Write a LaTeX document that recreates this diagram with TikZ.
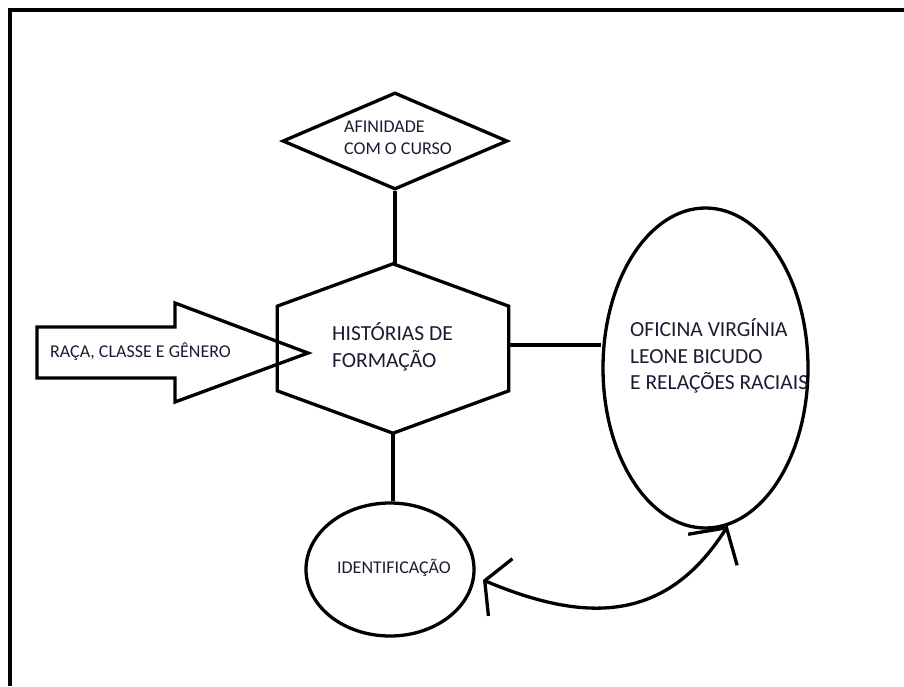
\documentclass[tikz,border=0pt]{standalone}
\usepackage{fontspec}
\setmainfont{Carlito}
\usetikzlibrary{shapes.geometric,arrows.meta,calc}
\definecolor{ink}{RGB}{25,28,50}
\begin{document}
\begin{tikzpicture}[x=1pt,y=-1pt,
  shp/.style={draw=black,line width=3.3pt,line join=miter},
  lbl/.style={text=ink,inner sep=0,font=\fontsize{18}{22}\selectfont,align=left},
  lblbig/.style={text=ink,inner sep=0,font=\fontsize{21.5}{26.5}\selectfont,align=left},
  conn/.style={draw=black,line width=3.3pt}]
\useasboundingbox (0,0) rectangle (904,686);
% frame
\draw[line width=4pt] (9.5,686) -- (9.5,9.5) -- (904,9.5);
% diamond
\node[diamond,shp,inner sep=0,minimum width=225pt,minimum height=97pt] (dia) at (395,141) {};
\node[lbl] (diatxt) at (398,137.5) {AFINIDADE\\COM O CURSO};
% hexagon
\node[inner sep=0,minimum width=231pt,minimum height=169pt] (hex) at (393,348.5) {};
\draw[shp] (hex.north) -- ($(hex.north west)!0.25!(hex.south west)$) -- ($(hex.north west)!0.75!(hex.south west)$) -- (hex.south) -- ($(hex.north east)!0.75!(hex.south east)$) -- ($(hex.north east)!0.25!(hex.south east)$) -- cycle;
\node[lblbig,anchor=west] (hextxt) at (332,347) {HISTÓRIAS DE\\FORMAÇÃO};
% big arrow
\draw[shp] (37,327) -- (175,327) -- (175,303) -- (308,353) -- (175,402) -- (175,378) -- (37,378) -- cycle;
\node[lbl] (arrtxt) at (140.5,352) {RAÇA, CLASSE E GÊNERO};
% ellipse
\node[ellipse,shp,inner sep=0,minimum width=205pt,minimum height=320pt] (ofi) at (705.5,368) {};
\node[lblbig,anchor=west] (ofitxt) at (630,356) {OFICINA VIRGÍNIA\\LEONE BICUDO\\E RELAÇÕES RACIAIS};
% circle
\node[ellipse,shp,inner sep=0,minimum width=168pt,minimum height=133pt] (id) at (390,569.5) {};
\node[lbl] (idtxt) at (394,568) {IDENTIFICAÇÃO};
% connectors
\draw[conn] (dia.south) -- (dia.south |- hex.north);
\draw[conn] ([yshift=3.5pt]hex.east) -- ([yshift=3.5pt]hex.east -| ofi.west);
\draw[conn] (hex.south) -- (hex.south |- id.north);
\coordinate (idend) at (483,580);
\draw[conn,{Straight Barb[length=17pt,width=62pt]}-{Straight Barb[length=26pt,width=58pt]}] (idend) .. controls (583,622) and (665,625) .. (ofi.-82);
\end{tikzpicture}
\end{document}
